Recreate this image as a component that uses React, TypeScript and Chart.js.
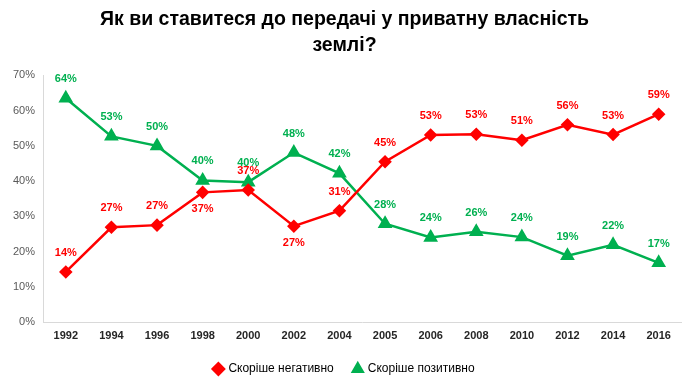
import React, { useEffect, useRef } from "react";
import { Chart, registerables } from "chart.js";

Chart.register(...registerables);

const years = ["1992", "1994", "1996", "1998", "2000", "2002", "2004", "2005", "2006", "2008", "2010", "2012", "2014", "2016"];
const negative = [14.2, 26.9, 27.5, 36.8, 37.5, 27.2, 31.6, 45.5, 53.1, 53.3, 51.6, 56.0, 53.2, 59.0];
const positive = [63.5, 52.7, 50.0, 40.2, 39.7, 48.1, 42.2, 27.9, 24.0, 25.6, 24.1, 18.8, 21.9, 16.8];
const negativeLabels = ["14%", "27%", "27%", "37%", "37%", "27%", "31%", "45%", "53%", "53%", "51%", "56%", "53%", "59%"];
const positiveLabels = ["64%", "53%", "50%", "40%", "40%", "48%", "42%", "28%", "24%", "26%", "24%", "19%", "22%", "17%"];
const negativeLabelSide = ["up", "up", "up", "down", "up", "down", "up", "up", "up", "up", "up", "up", "up", "up"];
const positiveLabelSide = ["up", "up", "up", "up", "up", "up", "up", "up", "up", "up", "up", "up", "up", "up"];
const yTicks = [0, 10, 20, 30, 40, 50, 60, 70];

const titleLines = ["Як ви ставитеся до передачі у приватну власність", "землі?"];
const seriesNames = ["Скоріше негативно", "Скоріше позитивно"];

const RED = "#FF0000";
const GREEN = "#00B050";

const labelPlugin = {
  id: "valueLabels",
  afterDatasetsDraw(chart: any) {
    const ctx = chart.ctx;
    const sets = [
      { labels: negativeLabels, side: negativeLabelSide, color: RED },
      { labels: positiveLabels, side: positiveLabelSide, color: GREEN },
    ];
    ctx.save();
    ctx.font = "bold 11px 'Liberation Sans', Arial, sans-serif";
    ctx.textAlign = "center";
    ctx.textBaseline = "middle";
    sets.forEach((s, di) => {
      const meta = chart.getDatasetMeta(di);
      meta.data.forEach((pt: any, i: number) => {
        ctx.fillStyle = s.color;
        const dy = s.side[i] === "down" ? 17 : -19;
        ctx.fillText(s.labels[i], pt.x, pt.y + dy);
      });
    });
    ctx.restore();
  },
};

export default function App() {
  const ref = useRef<HTMLCanvasElement | null>(null);
  useEffect(() => {
    const canvas = ref.current;
    if (!canvas) return;
    const chart = new Chart(canvas, {
      type: "line",
      data: {
        labels: years,
        datasets: [
          {
            label: seriesNames[0],
            data: negative,
            borderColor: RED,
            backgroundColor: RED,
            borderWidth: 2.5,
            pointStyle: "rectRot",
            pointRadius: 5,
            pointHoverRadius: 5,
            tension: 0,
          },
          {
            label: seriesNames[1],
            data: positive,
            borderColor: GREEN,
            backgroundColor: GREEN,
            borderWidth: 2.5,
            pointStyle: "triangle",
            pointRadius: 6,
            pointHoverRadius: 6,
            tension: 0,
          },
        ],
      },
      options: {
        animation: false,
        responsive: false,
        maintainAspectRatio: false,
        layout: { padding: { left: 0, right: 1, top: 0, bottom: -8 } },
        plugins: {
          title: {
            display: true,
            text: titleLines,
            color: "#000",
            font: { family: "'Liberation Sans', Arial, sans-serif", size: 19.5, weight: "bold", lineHeight: 1.37 },
            padding: { top: 6, bottom: 16 },
          },
          legend: {
            position: "bottom",
            labels: {
              usePointStyle: true,
              boxWidth: 8,
              boxHeight: 8,
              color: "#000",
              padding: 20,
              font: { family: "'Liberation Sans', Arial, sans-serif", size: 12 },
            },
          },
          tooltip: { enabled: false },
        },
        scales: {
          x: {
            offset: true,
            afterFit(scale: any) {
              scale.height = 21;
            },
            grid: { display: false, drawTicks: false },
            border: { display: true, color: "#D9D9D9", width: 1 },
            ticks: {
              color: "#262626",
              padding: 7,
              maxRotation: 0,
              font: { family: "'Liberation Sans', Arial, sans-serif", size: 11, weight: "bold" },
            },
          },
          y: {
            min: 0,
            max: 70,
            afterFit(scale: any) {
              scale.width = 43;
            },
            afterBuildTicks(scale: any) {
              scale.ticks = yTicks.map((v) => ({ value: v }));
            },
            grid: { display: false, drawTicks: false },
            border: { display: true, color: "#D9D9D9", width: 1 },
            ticks: {
              color: "#595959",
              padding: 8,
              callback: (v: any) => v + "%",
              font: { family: "'Liberation Sans', Arial, sans-serif", size: 11 },
            },
          },
        },
      },
      plugins: [labelPlugin],
    });
    return () => chart.destroy();
  }, []);
  return (
    <div style={{ position: "absolute", left: 0, top: 0, width: 690, height: 377, background: "#fff" }}>
      <canvas ref={ref} width={690} height={377} />
    </div>
  );
}
